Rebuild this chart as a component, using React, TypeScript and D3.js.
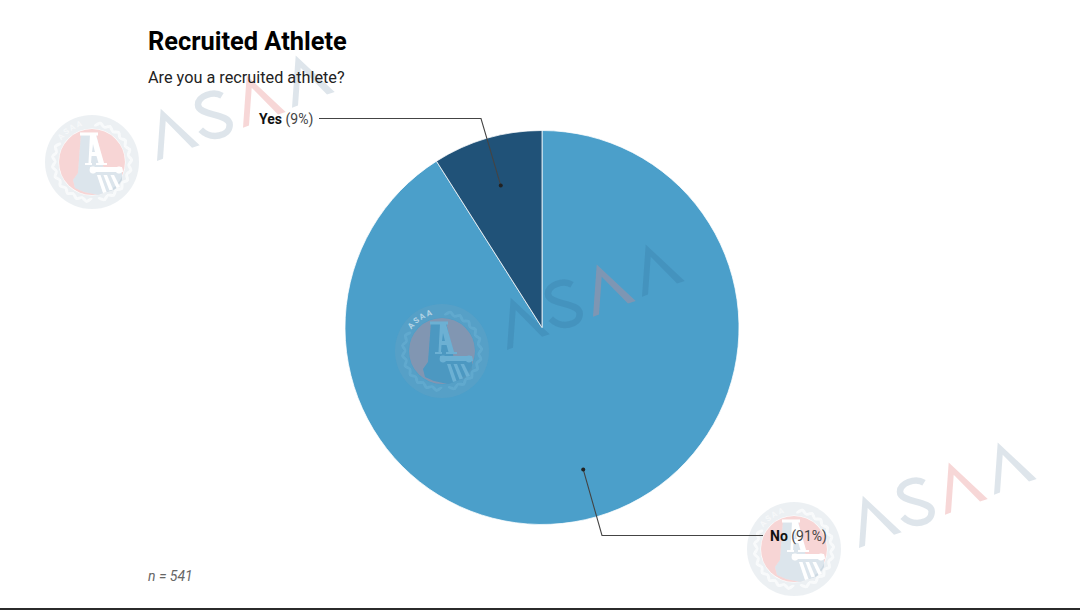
import React from "react";
import * as d3 from "d3";

const titleText = "Recruited Athlete";
const subtitleText = "Are you a recruited athlete?";
const noteText = "n = 541";
const categories = ["No", "Yes"];
const shares = [91, 9];
const sliceColors = ["#4b9fca", "#205278"];
const watermarkCentres: [number, number][] = [[92, 162], [442, 351], [794, 549]];

const W = 1080, H = 611;
const cx = 542, cy = 327.5, R = 197;

const NAVY = "#1f4e79";
const PINK = "#e88787";
const INK = "#2b2b2b";

const PEAK = "M0,0 L3.7,-52.3 L42.7,-15.7 L35,-13.3 L8.7,-40 L6,-2.3 Z";
const S_CURVE = "M130,-66.3 C121,-71.7 106,-65.7 106,-57.3 C106,-45.7 137.7,-49 137.7,-37.3 C137.7,-25.7 119.3,-21.7 108.7,-32.3";

function Wordmark() {
  return (
    <g>
      <path d={PEAK} transform="translate(65,-1)" fill={NAVY} fillOpacity={0.15} />
      <path d={S_CURVE} fill="none" stroke={NAVY} strokeOpacity={0.15} strokeWidth={6.5} />
      <path d={PEAK} transform="translate(151,-34.3)" fill={PINK} fillOpacity={0.33} />
      <path d={PEAK} transform="translate(200,-54.3)" fill={NAVY} fillOpacity={0.15} />
    </g>
  );
}

const COLUMN = "M-11,-29 L4,-29 L12,8 L30,8 L30,18 L24,27 L6,33 L-8,30 L-17,26 L-19,18 L-14,11 Z";

function leafAngles() {
  return [...d3.range(12, 175, 15), ...d3.range(188, 296, 15)];
}

function Leaves({ fill, opacity }: { fill: string; opacity?: number }) {
  return (
    <g opacity={opacity} fill={fill}>
      {leafAngles().map((a) => (
        <g key={a} transform={`rotate(${a}) translate(0,-39.8)`}>
          <ellipse cx={-2.8} cy={-0.3} rx={3.9} ry={1.5} transform="rotate(-40)" />
          <ellipse cx={2.8} cy={-0.3} rx={3.9} ry={1.5} transform="rotate(40)" />
        </g>
      ))}
    </g>
  );
}

function Carved({ fill, opacity }: { fill: string; opacity?: number }) {
  return (
    <g opacity={opacity}>
      <path d="M-12,-29.5 L6,-29.5 L6,-26.5 L-12,-26.5 Z" fill={fill} />
      <path d="M-2,-27 L4,-27 L12,1 L6.5,1 L4.5,-6 L-0.5,-6 L-1,1 L-3.5,1 Z M1,-18 L0,-10 L3,-10 Z" fill={fill} fillRule="evenodd" />
      <path d="M-7,1 L0,1 L0,3 L-7,3 Z M4,1 L15,1 L15,3 L4,3 Z" fill={fill} />
      <path d="M-2,5 L30,5 L31,10 L-1,10 Z" fill={fill} />
      <circle cx={1} cy={8} r={3.4} fill={fill} />
      <circle cx={27} cy={8} r={3.4} fill={fill} />
      {[5, 11.5, 18.5].map((x, i) => (
        <path key={x} d={`M${x},13 L${x + 3.5},13 L${x + 9.5},${30 - i * 2.5} L${x + 6},${31 - i * 2.5} Z`} fill={fill} />
      ))}
    </g>
  );
}

function Badge({ id }: { id: string }) {
  const ring = d3.arc<any>().innerRadius(33.5).outerRadius(47).startAngle(0).endAngle(Math.PI * 2);
  return (
    <g>
      <defs>
        <mask id={`${id}-cut`} maskUnits="userSpaceOnUse" x={-50} y={-50} width={100} height={100}>
          <rect x={-50} y={-50} width={100} height={100} fill="#fff" />
          <Leaves fill="#5a5a5a" />
          <Carved fill="#000" />
        </mask>
        <mask id={`${id}-disc`} maskUnits="userSpaceOnUse" x={-50} y={-50} width={100} height={100}>
          <rect x={-50} y={-50} width={100} height={100} fill="#fff" />
          <path d={COLUMN} fill="#000" />
        </mask>
        <path id={id} d="M-30.5,-21.5 A37.3,37.3 0 0 1 4,-37" />
      </defs>
      <g mask={`url(#${id}-cut)`}>
        <path d={ring(null as any) ?? ""} fill="#8fa5b8" fillOpacity={0.17} />
        <circle r={33} fill={PINK} fillOpacity={0.35} mask={`url(#${id}-disc)`} />
        <path d={COLUMN} fill="#4f7da0" fillOpacity={0.2} />
      </g>
      <Leaves fill="#fff" opacity={0.1} />
      <Carved fill="#fff" opacity={0.18} />
      <text fontFamily="Roboto" fontSize={8} fontWeight={700} letterSpacing={1.6} fill="#fff" fillOpacity={0.55}>
        <textPath href={`#${id}`}>ASAA</textPath>
      </text>
    </g>
  );
}

function Watermark({ x, y, id }: { x: number; y: number; id: string }) {
  return (
    <g transform={`translate(${x},${y})`}>
      <Badge id={id} />
      <Wordmark />
    </g>
  );
}

export default function App() {
  const data = categories.map((name, i) => ({ name, value: shares[i], color: sliceColors[i] }));
  const pieGen = d3.pie<any>().value((d) => d.value).sort(null);
  const arcs = pieGen(data);
  const arc = d3.arc<any>().innerRadius(0).outerRadius(R);
  const anchorArc = d3.arc<any>().innerRadius(R * 0.5).outerRadius(R);
  const line = d3.line();

  const dots = arcs.map((a) => {
    const [x, y] = anchorArc.centroid(a);
    return [x + cx, y + cy] as [number, number];
  });
  const noPath = line([dots[0], [602, 535.5], [763, 535.5]]);
  const yesPath = line([dots[1], [481, 118.5], [319, 118.5]]);

  return (
    <svg width={W} height={H} viewBox={`0 0 ${W} ${H}`} style={{ position: "fixed", left: 0, top: 0, background: "#fff" }}>
      <g transform={`translate(${cx},${cy})`}>
        {arcs.map((a) => (
          <path key={a.data.name} d={arc(a) ?? ""} fill={a.data.color} stroke="#fff" strokeOpacity={0.75} strokeWidth={1} />
        ))}
      </g>
      {watermarkCentres.map(([x, y], i) => (
        <Watermark key={i} x={x} y={y} id={`ring-${i}`} />
      ))}
      <g fill="none" stroke="#444" strokeWidth={1.1}>
        <path d={noPath ?? ""} />
        <path d={yesPath ?? ""} />
      </g>
      <g fill="#222">
        {dots.map((d, i) => <circle key={i} cx={d[0]} cy={d[1]} r={2} />)}
      </g>
      <g fontFamily="Roboto" fill="#111">
        <text x={148} y={50} fontSize={25.4} fontWeight={700} fill="#000">{titleText}</text>
        <text x={148} y={83} fontSize={16.25} fill="#222">{subtitleText}</text>
        <text x={259} y={124} fontSize={14}>
          <tspan fontWeight={700}>{categories[1]}</tspan>
          <tspan fill="#444"> ({shares[1]}%)</tspan>
        </text>
        <text x={770} y={541} fontSize={14}>
          <tspan fontWeight={700}>{categories[0]}</tspan>
          <tspan fill="#444"> ({shares[0]}%)</tspan>
        </text>
        <text x={148} y={581} fontSize={14} fontStyle="italic" fill="#666">{noteText}</text>
      </g>
      <line x1={0} x2={W} y1={609} y2={609} stroke={INK} strokeWidth={2} />
    </svg>
  );
}
